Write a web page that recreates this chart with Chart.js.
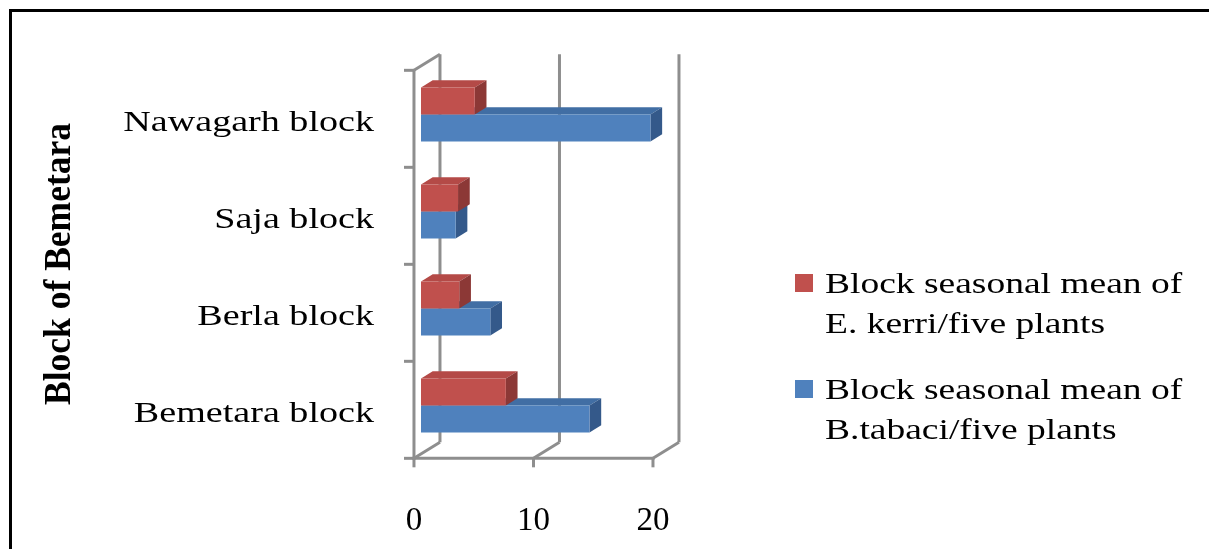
<!DOCTYPE html>
<html>
<head>
<meta charset="utf-8">
<script src="https://cdn.jsdelivr.net/npm/chart.js@4/dist/chart.umd.min.js"></script>
<style>
  html, body { margin: 0; padding: 0; background: #ffffff; }
  #wrap { width: 1209px; height: 549px; position: relative; }
</style>
</head>
<body>
<div id="wrap"><canvas id="c" width="1209" height="549"></canvas></div>
<script>
// Blocks of Bemetara district, top to bottom
const categories = ['Nawagarh block', 'Saja block', 'Berla block', 'Bemetara block'];
// Seasonal mean per five plants
const ekerriMean = [4.5, 3.1, 3.2, 7.1];
const btabaciMean = [19.2, 2.9, 5.8, 14.1];
// Value axis ticks
const valueTicks = [0, 10, 20];
// Legend text, one array of lines per series
const ekerriLabel = ['Block seasonal mean of', 'E. kerri/five plants'];
const btabaciLabel = ['Block seasonal mean of', 'B.tabaci/five plants'];
const axisTitle = 'Block of Bemetara';

const SERIF = "'Liberation Serif', 'Times New Roman', serif";
const GRID = '#8e8e8e';
// Depth vector of the 3D box and where the bars sit inside it
const DX = 26, DY = -16, F0 = 0.27, THICK = 0.45;
const STRETCH = 1.27;

const faceColors = [
  { front: '#C0504D', top: '#B44A47', side: '#8C3836' },
  { front: '#4F81BD', top: '#416EA4', side: '#34598A' }
];

function stretchedText(ctx, text, x, y, align, sx, font, color) {
  ctx.save();
  ctx.translate(x, y);
  ctx.scale(sx, 1);
  ctx.font = font;
  ctx.fillStyle = color || '#000';
  ctx.textAlign = align;
  ctx.textBaseline = 'alphabetic';
  ctx.fillText(text, 0, 0);
  ctx.restore();
}

const scene3d = {
  id: 'scene3d',
  beforeDraw(chart) {
    const ctx = chart.ctx;
    ctx.save();
    ctx.fillStyle = '#ffffff';
    ctx.fillRect(0, 0, chart.width, chart.height);
    // frame around the figure
    ctx.fillStyle = '#000';
    ctx.fillRect(9, 9, chart.width - 9, 3);
    ctx.fillRect(9, 9, 3, chart.height - 9);
    ctx.restore();
  },
  beforeDatasetsDraw(chart) {
    const ctx = chart.ctx;
    const xs = chart.scales.x;
    const area = chart.chartArea;
    const fx = v => xs.getPixelForValue(v) - F0 * DX;
    const fy = y => y - F0 * DY;
    const bx = v => xs.getPixelForValue(v) + (1 - F0) * DX;
    const by = y => y + (1 - F0) * DY;
    const vmin = valueTicks[0], vmax = valueTicks[valueTicks.length - 1];

    ctx.save();
    ctx.strokeStyle = GRID;
    ctx.lineWidth = 3;
    ctx.lineCap = 'butt';
    const line = (x1, y1, x2, y2) => { ctx.beginPath(); ctx.moveTo(x1, y1); ctx.lineTo(x2, y2); ctx.stroke(); };

    // back wall gridlines
    valueTicks.forEach(v => line(bx(v), by(area.top), bx(v), by(area.bottom)));
    // floor depth lines
    valueTicks.forEach(v => line(fx(v), fy(area.bottom), bx(v), by(area.bottom)));
    // side wall top edge
    line(fx(vmin), fy(area.top), bx(vmin), by(area.top));
    // front category axis and its ticks
    line(fx(vmin), fy(area.top), fx(vmin), fy(area.bottom) + 1.5);
    const band = (area.bottom - area.top) / categories.length;
    for (let i = 0; i <= categories.length; i++) {
      const y = fy(area.top + i * band);
      line(fx(vmin) - 10, y, fx(vmin), y);
    }
    // front value axis and its ticks
    line(fx(vmin) - 1.5, fy(area.bottom), fx(vmax) + 1.5, fy(area.bottom));
    valueTicks.forEach(v => line(fx(v), fy(area.bottom), fx(v), fy(area.bottom) + 9));

    // top and side faces of every bar
    [1, 0].forEach(di => {
      const meta = chart.getDatasetMeta(di);
      const col = faceColors[di];
      meta.data.forEach(el => {
        const p = el.getProps(['x', 'y', 'base', 'height'], true);
        const l = Math.min(p.base, p.x), r = Math.max(p.base, p.x);
        const t = p.y - p.height / 2, b = p.y + p.height / 2;
        const ox = THICK * DX, oy = THICK * DY;
        ctx.fillStyle = col.top;
        ctx.beginPath();
        ctx.moveTo(l, t); ctx.lineTo(r, t); ctx.lineTo(r + ox, t + oy); ctx.lineTo(l + ox, t + oy);
        ctx.closePath(); ctx.fill();
        ctx.fillStyle = col.side;
        ctx.beginPath();
        ctx.moveTo(r, t); ctx.lineTo(r + ox, t + oy); ctx.lineTo(r + ox, b + oy); ctx.lineTo(r, b);
        ctx.closePath(); ctx.fill();
      });
    });
    ctx.restore();
  },
  afterDraw(chart) {
    const ctx = chart.ctx;
    const xs = chart.scales.x, ys = chart.scales.y;
    const labelFont = '30px ' + SERIF;

    // category labels
    categories.forEach((c, i) => {
      const y = ys.getPixelForValue(i) - F0 * DY + 12.5;
      stretchedText(ctx, c, 374, y, 'right', STRETCH, labelFont);
    });
    // value tick labels
    valueTicks.forEach(v => {
      const x = xs.getPixelForValue(v) - F0 * DX;
      stretchedText(ctx, String(v), x, 530, 'center', 1, '33px ' + SERIF);
    });
    // axis title
    ctx.save();
    ctx.translate(70, 264);
    ctx.rotate(-Math.PI / 2);
    ctx.font = 'bold 30px ' + SERIF;
    const w = ctx.measureText(axisTitle).width;
    ctx.scale(282 / w, 1.26);
    ctx.fillStyle = '#000';
    ctx.textAlign = 'center';
    ctx.textBaseline = 'alphabetic';
    ctx.fillText(axisTitle, 0, 0);
    ctx.restore();

    // legend
    const entries = [
      { lines: chart.data.datasets[0].label, color: chart.data.datasets[0].backgroundColor, base: 293 },
      { lines: chart.data.datasets[1].label, color: chart.data.datasets[1].backgroundColor, base: 399 }
    ];
    entries.forEach(e => {
      ctx.fillStyle = e.color;
      ctx.fillRect(795, e.base - 19, 18, 18);
      e.lines.forEach((ln, k) => stretchedText(ctx, ln, 825, e.base + k * 40, 'left', 1.25, labelFont));
    });
  }
};

new Chart(document.getElementById('c'), {
  type: 'bar',
  data: {
    labels: categories,
    datasets: [
      { label: ekerriLabel, data: ekerriMean, backgroundColor: faceColors[0].front, borderWidth: 0 },
      { label: btabaciLabel, data: btabaciMean, backgroundColor: faceColors[1].front, borderWidth: 0 }
    ]
  },
  options: {
    indexAxis: 'y',
    responsive: false,
    animation: false,
    devicePixelRatio: 1,
    barPercentage: 1,
    categoryPercentage: 0.557,
    layout: { padding: { left: 421, right: 549, top: 66, bottom: 95 } },
    scales: {
      x: { type: 'linear', min: valueTicks[0], max: valueTicks[valueTicks.length - 1], display: false },
      y: { type: 'category', display: false, offset: true }
    },
    plugins: { legend: { display: false }, tooltip: { enabled: false } }
  },
  plugins: [scene3d]
});
</script>
</body>
</html>
